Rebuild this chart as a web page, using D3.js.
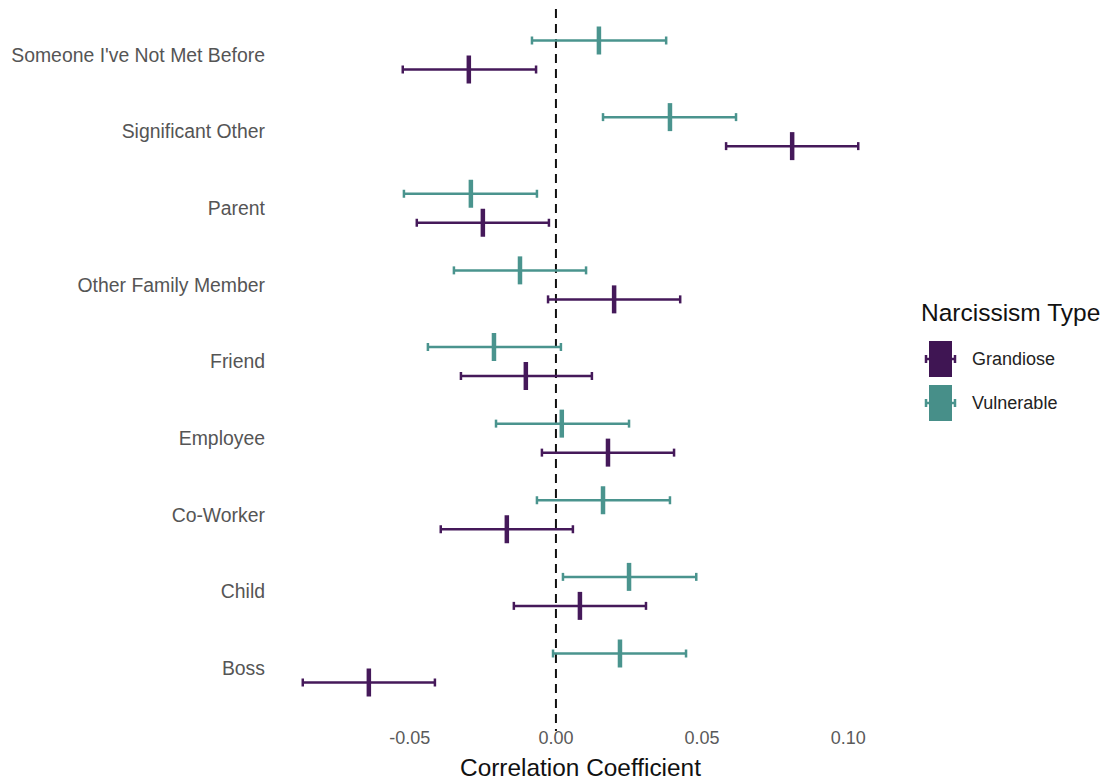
<!DOCTYPE html>
<html>
<head>
<meta charset="utf-8">
<script src="https://cdn.jsdelivr.net/npm/d3@7"></script>
<style>
  body { margin: 0; background: #fff; }
  svg text { font-family: 'Liberation Sans', Arial, sans-serif; }
</style>
</head>
<body>
<div id="chart-container"></div>
<script>
// categories top to bottom
const categories = ['Someone I\'ve Not Met Before', 'Significant Other', 'Parent', 'Other Family Member',
  'Friend', 'Employee', 'Co-Worker', 'Child', 'Boss'];
const types = ['Grandiose', 'Vulnerable'];

// correlation estimates and 95% CIs
const grandioseR = [-0.0298, 0.0808, -0.0250, 0.0199, -0.0103, 0.0178, -0.0168, 0.0082, -0.0640];
const grandioseLo = [-0.0524, 0.0582, -0.0476, -0.0027, -0.0325, -0.0048, -0.0394, -0.0144, -0.0866];
const grandioseHi = [-0.0068, 0.1034, -0.0024, 0.0425, 0.0123, 0.0404, 0.0058, 0.0308, -0.0414];

const vulnerableR = [0.0147, 0.0390, -0.0291, -0.0123, -0.0212, 0.0020, 0.0161, 0.0250, 0.0219];
const vulnerableLo = [-0.0082, 0.0161, -0.0520, -0.0349, -0.0438, -0.0205, -0.0065, 0.0024, -0.0010];
const vulnerableHi = [0.0377, 0.0616, -0.0065, 0.0103, 0.0017, 0.0250, 0.0390, 0.0480, 0.0445];

const xTicks = [-0.05, 0, 0.05, 0.1];

const colors = { Grandiose: '#45195a', Vulnerable: '#4a948e' };
const legendFill = { Grandiose: '#3f1553', Vulnerable: '#478f89' };

const data = [];
categories.forEach((c, i) => {
  data.push({ cat: c, type: 'Grandiose', r: grandioseR[i], lo: grandioseLo[i], hi: grandioseHi[i] });
  data.push({ cat: c, type: 'Vulnerable', r: vulnerableR[i], lo: vulnerableLo[i], hi: vulnerableHi[i] });
});

const W = 1109, H = 781;
const svg = d3.select('#chart-container').append('svg')
  .attr('width', W).attr('height', H);

// scales
const x = d3.scaleLinear().domain([-0.0961, 0.1129]).range([275, 886]);
const y = d3.scalePoint().domain(categories).range([55, 668]);
// dodge: grandiose below, vulnerable above
const dodge = { Grandiose: 14.5, Vulnerable: -14.5 };

// zero reference line
svg.append('line')
  .attr('x1', x(0)).attr('x2', x(0))
  .attr('y1', 9).attr('y2', 731)
  .attr('stroke', '#111').attr('stroke-width', 2)
  .attr('stroke-dasharray', '9,6');

// y labels
svg.append('g').selectAll('text')
  .data(categories)
  .join('text')
  .attr('x', 265)
  .attr('y', d => y(d))
  .attr('dy', '0.35em')
  .attr('text-anchor', 'end')
  .attr('fill', '#555')
  .style('font-size', '19.4px')
  .text(d => d);

// x axis tick labels (plain hyphen minus, like R)
svg.append('g').selectAll('text')
  .data(xTicks)
  .join('text')
  .attr('x', d => x(d))
  .attr('y', 738)
  .attr('dy', '0.35em')
  .attr('text-anchor', 'middle')
  .attr('fill', '#5a5a5a')
  .style('font-size', '18px')
  .text(d => d3.format('.2f')(d).replace('\u2212', '-'));

// x axis title
svg.append('text')
  .attr('x', (x.range()[0] + x.range()[1]) / 2)
  .attr('y', 767)
  .attr('dy', '0.35em')
  .attr('text-anchor', 'middle')
  .attr('fill', '#111')
  .style('font-size', '24.4px')
  .text('Correlation Coefficient');

// error bars
const bars = svg.append('g').selectAll('g')
  .data(data)
  .join('g')
  .attr('transform', d => `translate(0,${y(d.cat) + dodge[d.type]})`);

bars.append('line')
  .attr('x1', d => x(d.lo)).attr('x2', d => x(d.hi))
  .attr('stroke', d => colors[d.type]).attr('stroke-width', 2.5);

bars.append('line')
  .attr('x1', d => x(d.lo)).attr('x2', d => x(d.lo))
  .attr('y1', -4).attr('y2', 4)
  .attr('stroke', d => colors[d.type]).attr('stroke-width', 2.5);

bars.append('line')
  .attr('x1', d => x(d.hi)).attr('x2', d => x(d.hi))
  .attr('y1', -4).attr('y2', 4)
  .attr('stroke', d => colors[d.type]).attr('stroke-width', 2.5);

// point estimate
bars.append('line')
  .attr('x1', d => x(d.r)).attr('x2', d => x(d.r))
  .attr('y1', -14).attr('y2', 14)
  .attr('stroke', d => colors[d.type]).attr('stroke-width', 4.5);

// legend
const legend = svg.append('g').attr('transform', 'translate(921,0)');
legend.append('text')
  .attr('x', 0).attr('y', 312)
  .attr('dy', '0.35em')
  .attr('fill', '#111')
  .style('font-size', '24.5px')
  .text('Narcissism Type');

const keys = legend.selectAll('g.key')
  .data(types)
  .join('g')
  .attr('class', 'key')
  .attr('transform', (d, i) => `translate(0,${359 + i * 44})`);

keys.append('line')
  .attr('x1', 4).attr('x2', 35)
  .attr('stroke', d => colors[d]).attr('stroke-width', 2.5);
keys.append('line')
  .attr('x1', 5).attr('x2', 5).attr('y1', -4).attr('y2', 4)
  .attr('stroke', d => colors[d]).attr('stroke-width', 2.5);
keys.append('line')
  .attr('x1', 34).attr('x2', 34).attr('y1', -4).attr('y2', 4)
  .attr('stroke', d => colors[d]).attr('stroke-width', 2.5);
keys.append('rect')
  .attr('x', 8).attr('y', -18)
  .attr('width', 23).attr('height', 36)
  .attr('fill', d => legendFill[d]);

keys.append('text')
  .attr('x', 51).attr('y', 0)
  .attr('dy', '0.35em')
  .attr('fill', '#222')
  .style('font-size', '18px')
  .text(d => d);
</script>
</body>
</html>
